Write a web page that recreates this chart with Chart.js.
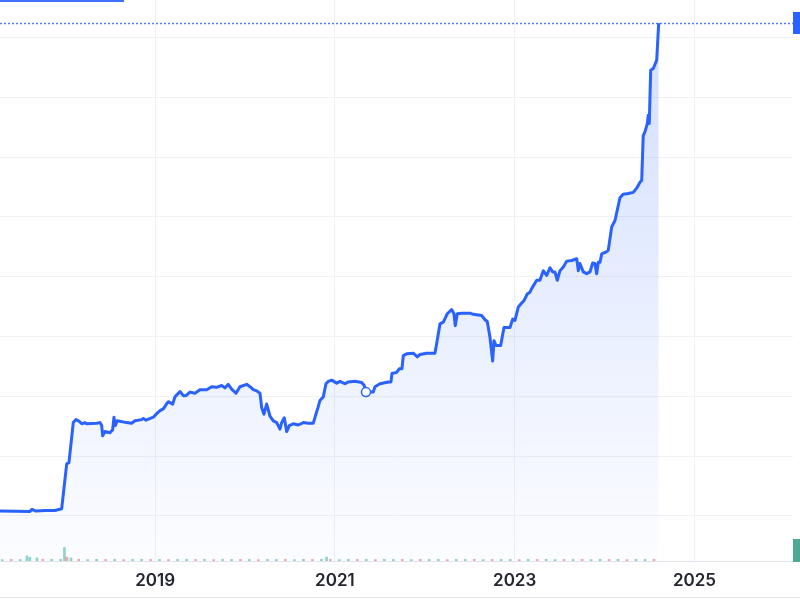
<!DOCTYPE html>
<html><head><meta charset="utf-8">
<script src="https://cdn.jsdelivr.net/npm/chart.js@4.4.1/dist/chart.umd.min.js"></script>
<style>
html,body{margin:0;padding:0;background:#fff;width:800px;height:600px;overflow:hidden;}
#wrap{position:relative;width:800px;height:597px;overflow:hidden;border-bottom:1px solid #e0e3eb;}
#tab{position:absolute;left:0;top:0;width:124px;height:2px;background:#3f70fe;}
canvas{display:block;}
</style></head><body>
<div id="wrap"><canvas id="c" width="800" height="608"></canvas><div id="tab"></div></div>
<script>
// x = fractional year, price in chart units (gridline step 10)
const years = [
 2017.275,2017.608,2017.631,2017.675,2017.775,2017.886,2017.961,
 2018.017,2018.042,2018.090,2018.120,2018.157,2018.184,2018.220,2018.239,2018.350,2018.387,2018.406,2018.417,
 2018.443,2018.498,2018.528,2018.543,2018.557,2018.579,2018.684,2018.740,2018.776,2018.851,
 2018.869,2018.899,2018.980,2019.018,2019.055,2019.091,2019.136,2019.147,2019.196,2019.221,
 2019.277,2019.314,2019.344,2019.388,2019.444,2019.499,2019.574,2019.630,2019.685,2019.741,
 2019.777,2019.814,2019.852,2019.900,2019.944,2020.019,2020.056,2020.093,2020.130,2020.167,
 2020.186,2020.211,2020.241,2020.278,2020.315,2020.353,2020.389,2020.408,2020.437,2020.464,
 2020.493,2020.537,2020.593,2020.649,2020.704,2020.760,2020.793,2020.812,2020.834,2020.871,
 2020.901,2020.927,2020.964,2021.020,2021.057,2021.112,2021.149,2021.224,2021.298,2021.327,
 2021.346,2021.427,2021.446,2021.502,2021.594,2021.624,2021.635,2021.687,2021.716,2021.746,
 2021.761,2021.799,2021.872,2021.917,2021.947,2022.021,2022.113,2022.132,2022.169,2022.206,
 2022.250,2022.299,2022.325,2022.339,2022.362,2022.410,2022.503,2022.539,2022.633,2022.670,
 2022.695,2022.725,2022.755,2022.770,2022.792,2022.844,2022.881,2022.948,2022.978,2023.003,
 2023.040,2023.078,2023.104,2023.140,2023.170,2023.189,2023.245,2023.281,2023.318,2023.356,
 2023.393,2023.423,2023.448,2023.474,2023.504,2023.541,2023.579,2023.634,2023.690,2023.708,
 2023.726,2023.763,2023.801,2023.838,2023.868,2023.893,2023.912,2023.930,2023.949,2023.968,
 2024.015,2024.041,2024.079,2024.116,2024.171,2024.208,2024.264,2024.319,2024.357,2024.394,
 2024.413,2024.430,2024.449,2024.475,2024.486,2024.497,2024.513,2024.542,2024.580,2024.602
];
const prices = [
 10.8,10.75,11.1,10.8,10.9,10.9,11.2,
 18.7,18.9,25.6,26.1,25.8,25.4,25.6,25.4,25.5,25.6,25.1,23.4,
 24.1,23.9,24.4,26.5,25.1,25.9,25.6,25.5,25.9,26.1,
 26.3,26.0,26.5,27.1,27.6,27.9,28.9,29.1,28.7,29.9,
 30.8,30.1,30.1,30.7,30.5,31.1,31.1,31.6,31.5,31.8,
 31.4,32.0,31.2,30.5,31.6,32.0,31.6,31.1,30.9,30.5,
 28.1,27.0,28.7,26.7,25.9,25.6,24.5,25.6,26.4,24.1,
 25.1,25.4,25.2,25.6,25.5,25.5,27.2,28.1,29.3,29.9,
 32.1,32.5,32.7,32.2,32.5,32.1,32.4,32.5,32.3,31.8,
 30.7,30.7,31.6,32.1,32.4,32.4,33.8,34.0,34.6,34.6,
 36.8,37.1,37.2,36.6,37.0,37.2,37.2,38.8,42.1,42.4,
 43.8,44.5,43.8,41.8,43.8,43.9,43.9,43.7,43.5,42.8,
 42.5,39.9,35.9,39.3,38.5,38.5,41.5,41.5,42.9,42.7,
 44.9,45.6,46.0,47.1,47.4,48.0,49.4,49.4,51.0,50.2,
 51.5,50.8,50.8,49.4,51.0,51.6,52.6,52.7,53.0,51.0,
 52.2,50.8,50.5,50.8,52.3,52.2,50.5,52.4,52.4,53.8,
 54.1,54.4,58.3,59.4,63.2,63.8,63.9,64.1,64.8,65.8,
 66.1,73.6,74.2,75.6,77.0,75.6,84.5,84.8,86.2,92.4
];
const markerYear = 2021.346, markerValue = 30.7;

const volX = [2017.30,2017.40,2017.50,2017.575,2017.608,2017.686,2017.75,2017.85,2017.95,2017.992,2018.02,2018.065,
 2018.15,2018.25,2018.35,2018.45,2018.55,2018.65,2018.75,2018.85,2018.95,2019.05,2019.15,2019.25,2019.35,2019.45,
 2019.55,2019.65,2019.75,2019.85,2019.95,2020.05,2020.15,2020.25,2020.35,2020.45,2020.55,2020.65,2020.75,2020.85,
 2020.908,2020.95,2021.05,2021.15,2021.25,2021.35,2021.45,2021.55,2021.65,2021.75,2021.85,2021.95,2022.05,2022.15,
 2022.25,2022.35,2022.45,2022.55,2022.65,2022.75,2022.85,2022.95,2023.05,2023.15,2023.25,2023.35,2023.45,2023.55,
 2023.65,2023.75,2023.85,2023.95,2024.05,2024.15,2024.25,2024.35,2024.45,2024.55];
const volV = [0.25,0.3,0.28,0.9,0.65,0.55,0.3,0.3,0.3,2.4,0.7,0.55,
 0.3,0.25,0.3,0.28,0.3,0.25,0.3,0.3,0.28,0.3,0.25,0.3,0.3,0.28,
 0.3,0.25,0.3,0.28,0.3,0.3,0.25,0.3,0.28,0.3,0.25,0.3,0.28,0.3,
 0.7,0.3,0.25,0.3,0.28,0.3,0.25,0.3,0.28,0.3,0.25,0.3,0.28,0.3,
 0.25,0.3,0.28,0.3,0.25,0.3,0.28,0.3,0.25,0.3,0.28,0.3,0.25,0.3,
 0.28,0.3,0.25,0.3,0.28,0.3,0.25,0.3,0.28,0.3];
const volUp = [1,0,1,1,1,1,0,1,1,1,0,1,
 0,1,1,0,1,0,1,1,0,1,0,1,1,0,
 1,0,1,1,0,1,0,1,1,0,1,1,0,1,
 1,0,1,1,0,1,0,1,1,0,1,0,1,1,
 0,1,1,0,1,0,1,1,0,1,0,1,1,0,
 1,0,1,1,0,1,0,1];

const yearTicks = [2019, 2021, 2023, 2025];
const gridValues = [10, 20, 30, 40, 50, 60, 70, 80, 90];
const xRange = [2017.275, 2026.096];
const yRange = [2.46, 96.26];

const gridColor = '#f0f1f4';

const overlay = {
  id: 'overlay',
  afterDatasetsDraw(chart) {
    const {ctx, chartArea: a, scales: {y}} = chart;
    const last = prices[prices.length - 1];
    const py = Math.round(y.getPixelForValue(last)) + 0.5;
    ctx.save();
    ctx.strokeStyle = 'rgba(41,98,255,0.8)';
    ctx.lineWidth = 1.5;
    ctx.setLineDash([2, 2]);
    ctx.beginPath(); ctx.moveTo(a.left, py); ctx.lineTo(a.right, py); ctx.stroke();
    ctx.setLineDash([]);
    ctx.fillStyle = '#2962ff';
    ctx.fillRect(a.right, py - 11.5, chart.width - a.right, 22);
    ctx.fillStyle = '#4caa94';
    ctx.fillRect(a.right, a.bottom - 22, chart.width - a.right, 23);
    ctx.restore();
  }
};

new Chart(document.getElementById('c'), {
  type: 'line',
  data: {
    datasets: [
      {
        type: 'line',
        data: [{x: markerYear, y: markerValue}],
        showLine: false,
        pointRadius: 4.5,
        pointBackgroundColor: '#ffffff',
        pointBorderColor: '#2962ff',
        pointBorderWidth: 1.5,
        yAxisID: 'y',
        order: 0
      },
      {
        type: 'line',
        data: years.map((x, i) => ({x, y: prices[i]})),
        borderColor: '#2962ff',
        borderWidth: 3,
        pointRadius: 0,
        tension: 0,
        borderJoinStyle: 'round',
        fill: 'start',
        backgroundColor: (c) => {
          const {chart} = c; const a = chart.chartArea;
          if (!a) return 'rgba(41,98,255,0.1)';
          const g = chart.ctx.createLinearGradient(0, a.top, 0, a.bottom);
          g.addColorStop(0, 'rgba(41,98,255,0.21)');
          g.addColorStop(1, 'rgba(41,98,255,0.015)');
          return g;
        },
        yAxisID: 'y',
        order: 1
      },
      {
        type: 'bar',
        data: volX.map((x, i) => ({x, y: volV[i]})),
        backgroundColor: volUp.map(u => u ? 'rgba(38,166,154,0.5)' : 'rgba(239,83,80,0.5)'),
        barThickness: 2,
        grouped: false,
        yAxisID: 'yv',
        order: 2
      }
    ]
  },
  options: {
    responsive: false,
    animation: false,
    events: [],
    layout: {autoPadding: false, padding: {left: 0, right: 7, top: 0, bottom: 6.6}},
    plugins: {legend: {display: false}, tooltip: {enabled: false}},
    scales: {
      x: {
        type: 'linear', min: xRange[0], max: xRange[1], offset: false,
        grid: {color: gridColor, drawTicks: false, offset: false},
        border: {display: true, color: '#e0e3eb'},
        afterBuildTicks: s => { s.ticks = yearTicks.map(v => ({value: v})); },
        ticks: {
          autoSkip: false, maxRotation: 0, padding: 10, color: '#23262f',
          font: {family: 'Inter', size: 17, weight: '600'},
          callback: v => String(v)
        }
      },
      y: {
        type: 'linear', position: 'right', min: yRange[0], max: yRange[1],
        afterBuildTicks: s => { s.ticks = gridValues.map(v => ({value: v})); },
        grid: {color: gridColor, drawTicks: false},
        border: {display: false},
        ticks: {display: false}
      },
      yv: {type: 'linear', display: false, min: 0, max: 100}
    }
  },
  plugins: [overlay]
});
</script>
</body></html>
